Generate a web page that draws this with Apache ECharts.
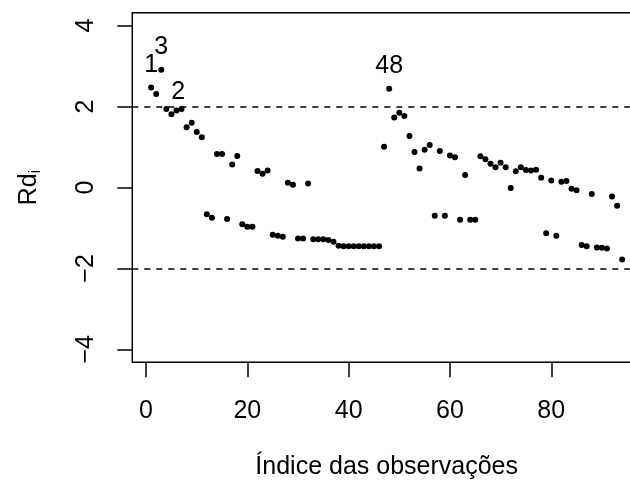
<!DOCTYPE html>
<html>
<head>
<meta charset="utf-8">
<script src="https://cdn.jsdelivr.net/npm/echarts@6/dist/echarts.min.js"></script>
<style>
  html, body { margin: 0; padding: 0; background: #fff; }
  #chart { width: 630px; height: 484px; }
</style>
</head>
<body>
<div id="chart"></div>
<script>
// Deletion residuals (Rd_i) by observation index, observations 1..94
const rd = [
  2.47, 2.31, 2.91, 1.94, 1.81, 1.90, 1.94, 1.49, 1.60, 1.37,
  1.24, -0.66, -0.75, 0.83, 0.83, -0.78, 0.57, 0.78, -0.91, -0.97,
  -0.97, 0.41, 0.34, 0.42, -1.17, -1.19, -1.22, 0.12, 0.07, -1.26,
  -1.26, 0.10, -1.28, -1.28, -1.28, -1.30, -1.34, -1.44, -1.45, -1.45,
  -1.45, -1.45, -1.45, -1.45, -1.45, -1.45, 1.01, 2.44, 1.73, 1.85,
  1.77, 1.27, 0.88, 0.47, 0.93, 1.05, -0.70, 0.90, -0.70, 0.79,
  0.75, -0.80, 0.31, -0.80, -0.80, 0.77, 0.70, 0.59, 0.50, 0.61,
  0.50, -0.01, 0.40, 0.50, 0.43, 0.42, 0.44, 0.24, -1.13, 0.17,
  -1.19, 0.14, 0.16, -0.03, -0.07, -1.42, -1.45, -0.16, -1.48, -1.49,
  -1.51, -0.22, -0.45, -1.78
];

// Identified observations and where their labels sit
const identified = [
  { obs: 1, pos: 'top' },
  { obs: 3, pos: 'top' },
  { obs: 2, pos: 'right' },
  { obs: 48, pos: 'top' }
];

// Reference cut-offs drawn as dashed lines
const cutoffs = [2, -2];

// Axis ticks
const xTicks = [0, 20, 40, 60, 80];
const yTicks = [-4, -2, 0, 2, 4];

const FONT = "'Liberation Sans', Arial, Helvetica, sans-serif";
const FS = 25;

const points = rd.map(function (v, i) {
  const obs = i + 1;
  const item = { value: [obs, v] };
  const id = identified.find(function (d) { return d.obs === obs; });
  if (id) {
    item.label = {
      show: true,
      position: id.pos,
      distance: id.pos === 'right' ? 12 : 7,
      offset: id.pos === 'right' ? [0, -2] : [0, 0],
      formatter: String(obs),
      color: '#000',
      opacity: 1,
      fontSize: FS,
      fontFamily: FONT
    };
  }
  return item;
});

const chart = echarts.init(document.getElementById('chart'), null, { renderer: 'canvas' });

chart.setOption({
  animation: false,
  backgroundColor: '#fff',
  textStyle: { fontFamily: FONT },
  grid: {
    left: 132.3,
    top: 12.7,
    width: 508.7,
    height: 349.6,
    show: true,
    borderColor: '#000',
    borderWidth: 1.5,
    backgroundColor: 'transparent',
    containLabel: false,
    outerBoundsMode: 'none'
  },
  xAxis: {
    type: 'value',
    min: -2.72,
    max: 97.72,
    splitLine: { show: false },
    axisLine: { show: false, onZero: false },
    axisTick: {
      show: true,
      length: 15,
      customValues: xTicks,
      lineStyle: { color: '#000', width: 1.5 }
    },
    axisLabel: {
      show: true,
      customValues: xTicks,
      margin: 36,
      color: '#000',
      fontSize: FS,
      fontFamily: FONT
    },
    name: 'Índice das observações',
    nameLocation: 'middle',
    nameGap: 92,
    nameTextStyle: { color: '#000', fontSize: FS, fontFamily: FONT }
  },
  yAxis: {
    type: 'value',
    min: -4.32,
    max: 4.32,
    splitLine: { show: false },
    axisLine: { show: false, onZero: false },
    axisTick: {
      show: true,
      length: 15,
      customValues: yTicks,
      lineStyle: { color: '#000', width: 1.5 }
    },
    axisLabel: {
      show: true,
      customValues: yTicks,
      rotate: 90,
      margin: 34,
      color: '#000',
      fontSize: FS,
      fontFamily: FONT,
      formatter: function (v) { return String(v).replace('-', '\u2212'); }
    },
    name: '{a|Rd}{b|i}',
    nameLocation: 'middle',
    nameRotate: 90,
    nameGap: 88,
    nameTextStyle: {
      color: '#000',
      fontFamily: FONT,
      rich: {
        a: { fontSize: FS, lineHeight: 30, color: '#000', fontFamily: FONT },
        b: { fontSize: 17, lineHeight: 30, verticalAlign: 'bottom', color: '#000', fontFamily: FONT }
      }
    }
  },
  series: [
    {
      type: 'scatter',
      data: points,
      symbol: 'circle',
      symbolSize: 6,
      itemStyle: { color: '#000', opacity: 1 },
      emphasis: { disabled: true },
      markLine: {
        silent: true,
        symbol: ['none', 'none'],
        label: { show: false },
        lineStyle: { color: '#000', width: 1.5, type: [6, 6], opacity: 1 },
        data: cutoffs.map(function (c) { return { yAxis: c }; })
      }
    }
  ]
});
</script>
</body>
</html>
